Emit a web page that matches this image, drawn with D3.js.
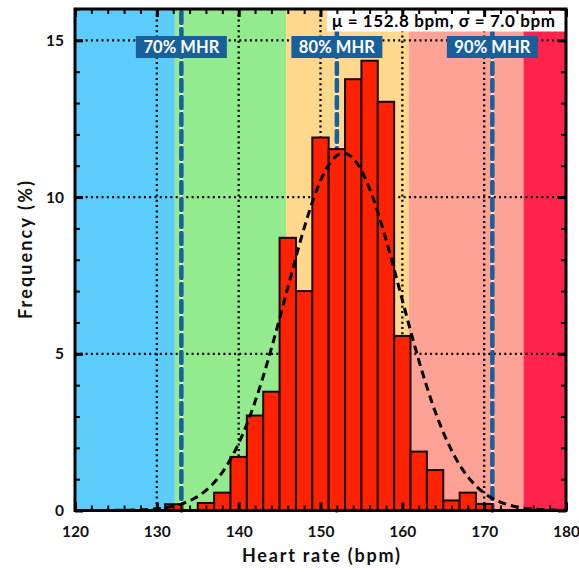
<!DOCTYPE html>
<html><head><meta charset="utf-8">
<script src="https://cdn.jsdelivr.net/npm/d3@7"></script>
<style>
body{margin:0;background:#fff;}
text{font-family:Lato,"DejaVu Sans",sans-serif;font-weight:700;}
</style>
</head><body>
<svg id="c" width="579" height="572"></svg>
<script>
// ---- data ----
const binCenters = [132,134,136,138,140,142,144,146,148,150,152,154,156,158,160,162,164,166,168,170];
const frequency  = [0.2,0,0.24,0.57,1.71,3.03,3.79,8.7,7.0,11.9,11.53,13.76,14.35,13.04,5.57,1.88,1.29,0.32,0.57,0.21];
const binWidth = 2;
const zoneEdges = [120,132.2,145.8,160.8,174.8,180];
const zoneColors = ["#5ccdfa","#93eb8e","#fed98d","#ffa296","#ff244e"];
const mhrLabels = ["70% MHR","80% MHR","90% MHR"];
const mhrValues = [133,152,171];
const fitMean = 152.8, fitSd = 7.0;
const xTicks = [120,130,140,150,160,170,180];
const yTicks = [0,5,10,15];
const xMinorTicks = d3.range(120,181,2);
const yMinorTicks = d3.range(0,17,1);
const gridX = [130,140,150,160,170];
const gridY = [5,10,15];
const statText = "\u03bc = 152.8 bpm, \u03c3 = 7.0 bpm";

// ---- layout ----
const L=75, R=566, T=9, B=510.5;
const svg = d3.select("#c");
const x = d3.scaleLinear().domain([120,180]).range([L,R]);
const y = d3.scaleLinear().domain([0,16]).range([B,T]);

// zones
svg.append("g").selectAll("rect").data(zoneColors).join("rect")
  .attr("x",(d,i)=>x(zoneEdges[i])).attr("width",(d,i)=>x(zoneEdges[i+1])-x(zoneEdges[i]))
  .attr("y",T).attr("height",B-T).attr("fill",d=>d);

// dotted grid
const grid = svg.append("g").attr("stroke","#000").attr("stroke-width",2.3).attr("stroke-dasharray","2,3.3");
grid.selectAll(".gx").data(gridX).join("line").attr("x1",d=>x(d)).attr("x2",d=>x(d)).attr("y1",T).attr("y2",B);
grid.selectAll(".gy").data(gridY).join("line").attr("y1",d=>y(d)).attr("y2",d=>y(d)).attr("x1",L).attr("x2",R);

// MHR lines
const mhr = svg.append("g");
mhr.selectAll(".w").data(mhrValues).join("line").attr("class","w")
  .attr("x1",d=>x(d)).attr("x2",d=>x(d)).attr("y1",T).attr("y2",B)
  .attr("stroke","#fff").attr("stroke-width",2.5);
mhr.selectAll(".b").data(mhrValues).join("line").attr("class","b")
  .attr("x1",d=>x(d)).attr("x2",d=>x(d)).attr("y1",T+3).attr("y2",B)
  .attr("stroke","#17609c").attr("stroke-width",4.5).attr("stroke-dasharray","11,6").attr("stroke-linecap","round");

// bars
svg.append("g").selectAll("rect").data(binCenters).join("rect")
  .attr("x",d=>x(d-binWidth/2)).attr("width",d=>x(d+binWidth/2)-x(d-binWidth/2))
  .attr("y",(d,i)=>y(frequency[i])).attr("height",(d,i)=>B-y(frequency[i]))
  .attr("fill",(d,i)=>frequency[i]>0?"#ff2200":"none")
  .attr("stroke",(d,i)=>frequency[i]>0?"#1a0500":"none").attr("stroke-width",2);

// fitted normal curve
const curvePts = d3.range(120,180.01,0.25).map(v=>[v, 100*binWidth*Math.exp(-0.5*((v-fitMean)/fitSd)**2)/(fitSd*Math.sqrt(2*Math.PI))]);
svg.append("path").datum(curvePts)
  .attr("d",d3.line().x(d=>x(d[0])).y(d=>y(d[1])))
  .attr("fill","none").attr("stroke","#000").attr("stroke-width",3).attr("stroke-dasharray","8,5");

// MHR label boxes
const lab = svg.append("g").selectAll("g").data(mhrValues).join("g")
  .attr("transform",d=>`translate(${x(d)},47)`);
lab.append("rect").attr("x",-45.5).attr("y",-11).attr("width",91).attr("height",22).attr("fill","#17609c");
lab.append("text").attr("text-anchor","middle").attr("dy","0.36em").attr("fill","#fff")
  .attr("textLength",76).attr("lengthAdjust","spacing")
  .style("font-size","16.5px").text((d,i)=>mhrLabels[i]);

// stat box
svg.append("rect").attr("x",327).attr("y",T+1.5).attr("width",R-327).attr("height",21).attr("fill","#fff");
svg.append("text").attr("x",443.5).attr("y",27).attr("text-anchor","middle").attr("fill","#000")
  .attr("textLength",223).attr("lengthAdjust","spacing")
  .style("font-size","17px").text(statText);

// frame
svg.append("rect").attr("x",L).attr("y",T).attr("width",R-L).attr("height",B-T)
  .attr("fill","none").attr("stroke","#000").attr("stroke-width",3);

// axes (ticks inward)
function styleAx(g, w){ g.select(".domain").remove(); g.selectAll(".tick line").attr("stroke","#000").attr("stroke-width",w); g.selectAll("text").attr("fill","#111").style("font-size","15.5px").style("font-family","Lato,'DejaVu Sans',sans-serif").style("font-weight","700"); }
svg.append("g").attr("transform",`translate(0,${B})`).call(d3.axisBottom(x).tickValues(xMinorTicks).tickSize(-5).tickFormat("")).call(g=>styleAx(g,2));
svg.append("g").attr("transform",`translate(0,${T})`).call(d3.axisTop(x).tickValues(xMinorTicks).tickSize(-5).tickFormat("")).call(g=>styleAx(g,2));
svg.append("g").attr("transform",`translate(${L},0)`).call(d3.axisLeft(y).tickValues(yMinorTicks).tickSize(-5).tickFormat("")).call(g=>styleAx(g,2));
svg.append("g").attr("transform",`translate(${R},0)`).call(d3.axisRight(y).tickValues(yMinorTicks).tickSize(-5).tickFormat("")).call(g=>styleAx(g,2));
svg.append("g").attr("transform",`translate(0,${B})`).call(d3.axisBottom(x).tickValues(xTicks).tickSize(-8).tickPadding(15).tickFormat(d3.format("d"))).call(g=>styleAx(g,3));
svg.append("g").attr("transform",`translate(0,${T})`).call(d3.axisTop(x).tickValues(xTicks).tickSize(-8).tickFormat("")).call(g=>styleAx(g,3));
svg.append("g").attr("transform",`translate(${L},0)`).call(d3.axisLeft(y).tickValues(yTicks).tickSize(-8).tickPadding(11).tickFormat(d3.format("d"))).call(g=>styleAx(g,3));
svg.append("g").attr("transform",`translate(${R},0)`).call(d3.axisRight(y).tickValues(yTicks).tickSize(-8).tickFormat("")).call(g=>styleAx(g,3));

// axis titles
svg.append("text").attr("x",321).attr("y",562).attr("text-anchor","middle").attr("fill","#111")
  .attr("textLength",158).attr("lengthAdjust","spacing")
  .style("font-size","18px").text("Heart rate (bpm)");
svg.append("text").attr("transform",`translate(32,250) rotate(-90)`).attr("text-anchor","middle").attr("fill","#111")
  .attr("textLength",138).attr("lengthAdjust","spacing")
  .style("font-size","18px").text("Frequency (%)");
</script>
</body></html>
